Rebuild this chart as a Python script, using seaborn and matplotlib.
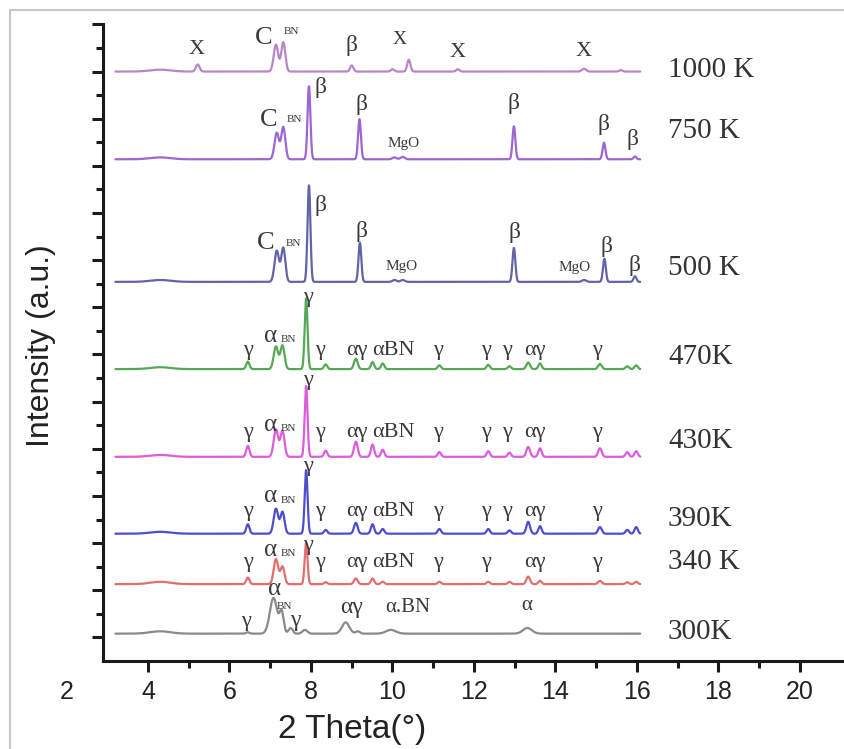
import numpy as np
import pandas as pd
import matplotlib
matplotlib.use("Agg")
import matplotlib.pyplot as plt
from matplotlib.patches import Rectangle
from matplotlib.ticker import FixedLocator
import seaborn as sns

# ---------------- data ----------------
samples = ["300K", "340 K", "390K", "430K", "470K", "500 K", "750 K", "1000 K"]
baselines = [0.08, 1.13, 2.2, 3.83, 5.69, 7.54, 10.14, 12.0]

pos_300 = [4.3, 6.45, 7.08, 7.28, 7.5, 7.85, 8.85, 9.15, 9.96, 13.31]
hgt_300 = [0.05, 0.03, 0.76, 0.44, 0.12, 0.08, 0.24, 0.05, 0.08, 0.12]
wid_300 = [0.25, 0.04, 0.09, 0.05, 0.05, 0.06, 0.09, 0.05, 0.12, 0.11]

pos_gamma = [4.3, 6.45, 7.14, 7.30, 7.88, 8.36, 9.1, 9.51, 9.76, 11.15, 12.35,
             12.87, 13.33, 13.62, 15.09, 15.76, 15.98]
wid_gamma = [0.25, 0.04, 0.055, 0.05, 0.035, 0.04, 0.045, 0.04, 0.04, 0.04, 0.04,
             0.04, 0.045, 0.04, 0.045, 0.04, 0.04]
hgt_340 = [0.05, 0.14, 0.53, 0.37, 0.88, 0.04, 0.12, 0.12, 0.05, 0.05, 0.05,
           0.05, 0.16, 0.07, 0.07, 0.04, 0.05]
hgt_390 = [0.04, 0.2, 0.53, 0.46, 1.35, 0.08, 0.23, 0.2, 0.1, 0.1, 0.1,
           0.07, 0.25, 0.16, 0.14, 0.08, 0.14]
hgt_430 = [0.04, 0.23, 0.58, 0.55, 1.5, 0.13, 0.32, 0.26, 0.15, 0.1, 0.12,
           0.09, 0.21, 0.18, 0.18, 0.1, 0.12]
hgt_470 = [0.04, 0.16, 0.48, 0.5, 1.5, 0.1, 0.22, 0.15, 0.12, 0.08, 0.09,
           0.06, 0.14, 0.12, 0.11, 0.06, 0.08]

pos_500 = [4.3, 7.16, 7.32, 7.95, 9.2, 10.05, 10.25, 12.98, 14.7, 15.2, 15.95]
hgt_500 = [0.04, 0.66, 0.72, 2.05, 0.83, 0.04, 0.04, 0.72, 0.04, 0.49, 0.12]
wid_500 = [0.25, 0.055, 0.05, 0.035, 0.035, 0.05, 0.05, 0.035, 0.05, 0.035, 0.035]

pos_750 = [4.3, 7.16, 7.32, 7.95, 9.19, 10.05, 10.25, 12.98, 15.19, 15.95]
hgt_750 = [0.04, 0.56, 0.68, 1.55, 0.85, 0.04, 0.05, 0.70, 0.35, 0.06]
wid_750 = [0.25, 0.055, 0.05, 0.035, 0.035, 0.05, 0.05, 0.035, 0.035, 0.035]

pos_1000 = [4.3, 5.22, 7.14, 7.32, 9.0, 10.0, 10.4, 11.6, 14.7, 15.6]
hgt_1000 = [0.04, 0.15, 0.57, 0.62, 0.13, 0.05, 0.25, 0.05, 0.06, 0.03]
wid_1000 = [0.25, 0.045, 0.055, 0.05, 0.04, 0.04, 0.04, 0.04, 0.05, 0.04]

x_start, x_end = 3.2, 16.08
x_ticks = [2, 4, 6, 8, 10, 12, 14, 16, 18, 20]

colors = {"300K": "#8a8a8a", "340 K": "#e36e6e", "390K": "#4d4dcf", "430K": "#dc5cdc",
          "470K": "#55a855", "500 K": "#6363a8", "750 K": "#9e66d2", "1000 K": "#b985c9"}

peaks = {
    "300K": (pos_300, hgt_300, wid_300),
    "340 K": (pos_gamma, hgt_340, wid_gamma),
    "390K": (pos_gamma, hgt_390, wid_gamma),
    "430K": (pos_gamma, hgt_430, wid_gamma),
    "470K": (pos_gamma, hgt_470, wid_gamma),
    "500 K": (pos_500, hgt_500, wid_500),
    "750 K": (pos_750, hgt_750, wid_750),
    "1000 K": (pos_1000, hgt_1000, wid_1000),
}

# build the traces from the peak tables
xg = np.linspace(x_start, x_end, 2600)
rows = []
for name, base in zip(samples, baselines):
    p, h, w = (np.asarray(a) for a in peaks[name])
    yv = base + (h[:, None] * np.exp(-0.5 * ((xg[None, :] - p[:, None]) / w[:, None]) ** 2)).sum(0)
    rows.append(pd.DataFrame({"theta": xg, "intensity": yv, "sample": name}))
df = pd.concat(rows, ignore_index=True)

# ---------------- plot ----------------
sns.set_style("ticks")
plt.rcParams["font.family"] = ["Liberation Sans", "DejaVu Sans"]

fig = plt.figure(figsize=(8.44, 7.49), dpi=100)
ax = fig.add_axes([66.5 / 844, 88 / 749, (844 - 66.5) / 844, (661 - 24.4) / 749])

sns.lineplot(data=df, x="theta", y="intensity", hue="sample", palette=colors,
             legend=False, estimator=None, errorbar=None, sort=False, lw=1.6, ax=ax)

ax.set_xlim(2, 21.08)
ax.set_ylim(-0.5, 13)
for s in ["top", "right"]:
    ax.spines[s].set_visible(False)
ax.spines["left"].set_position(("data", 2.9))
ax.spines["left"].set_bounds(-0.5, 13)
ax.spines["bottom"].set_bounds(2.9, 21.08)
for s in ["left", "bottom"]:
    ax.spines[s].set_linewidth(2.2)
    ax.spines[s].set_color("#1a1a1a")

ax.set_xticks(x_ticks)
ax.set_xticklabels([str(t) for t in x_ticks])
ax.xaxis.set_minor_locator(FixedLocator([5, 7, 9, 11, 13, 15, 17, 19]))
ax.set_yticks(np.arange(0, 14, 1))
ax.yaxis.set_minor_locator(FixedLocator(np.arange(0.5, 13, 1)))
ax.set_yticklabels([])
ax.tick_params(axis="both", which="major", direction="out", length=8, width=2.2,
               color="#1a1a1a", labelsize=18, pad=6)
ax.tick_params(axis="both", which="minor", direction="out", length=5, width=2.2,
               color="#1a1a1a")
ax.xaxis.get_major_ticks()[0].tick1line.set_visible(False)
for lab in ax.get_xticklabels():
    lab.set_color("#222222")

ax.set_xlabel("2 Theta(°)", fontsize=24, color="#222222")
ax.xaxis.set_label_coords(0.367, -0.083)
ax.set_ylabel("Intensity (a.u.)", fontsize=23, color="#222222")
ax.yaxis.set_label_coords(-0.014, 0.495)
ax.grid(False)

# sample labels on the right
lab_y = [0.11, 1.59, 2.52, 4.17, 5.95, 7.84, 10.74, 12.03]
for name, yl in zip(samples, lab_y):
    ax.text(16.76, yl, name, fontsize=21, family="Liberation Serif", color="#333333",
            ha="left", va="center")

# phase labels (text, x, y, size)
serif = "Liberation Serif"
tc = "#3a3a3a"
phase_labels = [
    # 1000 K
    ("X", 5.2, 12.46, 16), ("C", 6.84, 12.71, 19), ("BN", 7.52, 12.86, 8),
    ("β", 9.0, 12.56, 17), ("X", 10.18, 12.67, 14), ("X", 11.6, 12.4, 16),
    ("X", 14.68, 12.42, 16),
    # 750 K
    ("C", 6.97, 10.97, 19), ("BN", 7.6, 10.99, 8), ("β", 8.24, 11.67, 17),
    ("β", 9.23, 11.31, 17), ("MgO", 10.28, 10.47, 11), ("β", 12.96, 11.33, 17),
    ("β", 15.19, 10.87, 17), ("β", 15.88, 10.55, 17),
    # 500 K
    ("C", 6.9, 8.37, 19), ("BN", 7.58, 8.35, 8), ("β", 8.24, 9.15, 17),
    ("β", 9.23, 8.6, 17), ("MgO", 10.23, 7.86, 11), ("β", 13.0, 8.58, 17),
    ("MgO", 14.46, 7.84, 11), ("β", 15.24, 8.3, 17), ("β", 15.93, 7.88, 17),
]
row_labels = [("γ", 6.45), ("γ", 8.22), ("αγ", 9.13), ("αBN", 10.03), ("γ", 11.11),
              ("γ", 12.29), ("γ", 12.81), ("αγ", 13.5), ("γ", 15.02)]
row_y = {"470K": 6.08, "430K": 4.34, "390K": 2.67, "340 K": 1.59}
top_y = {"470K": 7.2, "430K": 5.44, "390K": 3.62, "340 K": 1.95}
alpha_y = {"470K": 6.4, "430K": 4.51, "390K": 2.99, "340 K": 1.86}
for name in ["470K", "430K", "390K", "340 K"]:
    for t, xl in row_labels:
        if name == "340 K" and xl == 12.81:
            continue
        phase_labels.append((t, xl, row_y[name], 16))
    phase_labels.append(("γ", 7.92, top_y[name], 16))
    phase_labels.append(("α", 7.02, alpha_y[name], 18))
    phase_labels.append(("BN", 7.44, alpha_y[name] - 0.08, 8))
phase_labels += [("γ", 6.4, 0.34, 16), ("α", 7.1, 1.02, 18), ("BN", 7.35, 0.66, 8),
                 ("γ", 7.62, 0.36, 17), ("αγ", 9.0, 0.64, 17), ("α.BN", 10.38, 0.64, 15),
                 ("α", 13.3, 0.68, 15)]
for t, xl, yl, fs in phase_labels:
    ax.text(xl, yl, t, fontsize=fs, family=serif, color=tc, ha="center", va="center")

# light frame of the original picture
fig.add_artist(Rectangle((10 / 844, -0.1), 1.2, 1 - 10 / 749 + 0.1, transform=fig.transFigure,
                         fill=False, edgecolor="#c8c8c8", lw=1.5))

fig.savefig("out.png", dpi=100)
